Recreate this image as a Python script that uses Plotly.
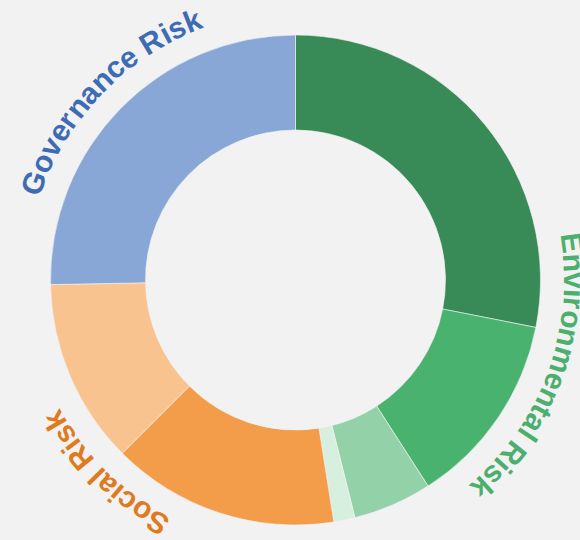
import math
import plotly.graph_objects as go

# ---- data ----
slice_names = ["Climate", "Pollution", "Resources", "Biodiversity",
               "Labor", "Community", "Governance"]
slice_values = [28.1, 12.8, 5.2, 1.4, 15.0, 12.2, 25.3]
slice_colors = ["#388a57", "#4ab26f", "#93d2a8", "#d7efdf",
                "#f39c4a", "#f9c390", "#88a7d6"]

group_labels = ["Environmental Risk", "Social Risk", "Governance Risk"]
group_label_colors = ["#4caf6e", "#e07a1f", "#3d6cb5"]
group_label_angles = [110.0, 224.5, 314.0]   # centre angle, degrees clockwise from 12 o'clock

W, H = 580, 540
CX, CY, R = 295.5, 280.0, 245.0
FS = 30
TEXT_R = 279.0          # radius of the character box centres
BASE_R = 269.0          # radius used for advancing along the arc

# Arial/Liberation Sans Bold advance widths (per 1000 em)
ADV = {"E": 667, "n": 611, "v": 556, "i": 278, "r": 389, "o": 611, "m": 889,
       "e": 556, "t": 333, "a": 556, "l": 278, " ": 278, "R": 722, "s": 556,
       "k": 556, "S": 667, "c": 556, "G": 778}

fig = go.Figure(go.Pie(
    labels=slice_names,
    values=slice_values,
    sort=False,
    direction="clockwise",
    rotation=0,
    hole=150 / 245,
    marker=dict(colors=slice_colors, line=dict(color="#f4f4f4", width=0.6)),
    textinfo="none",
    hoverinfo="label+percent",
    showlegend=False,
    domain=dict(x=[(CX - R) / W, (CX + R) / W],
                y=[1 - (CY + R) / H, 1 - (CY - R) / H]),
))

annotations = []
for text, color, centre in zip(group_labels, group_label_colors, group_label_angles):
    widths = [ADV.get(ch, 556) * FS / 1000 for ch in text]
    total = sum(widths)
    span = math.degrees(total / BASE_R)
    start = centre - span / 2
    cum = 0.0
    for ch, w in zip(text, widths):
        ang = start + math.degrees((cum + w / 2) / BASE_R)
        cum += w
        if ch == " ":
            continue
        a = math.radians(ang)
        px = CX + TEXT_R * math.sin(a)
        py = CY - TEXT_R * math.cos(a)
        rot = ang
        while rot > 180:
            rot -= 360
        annotations.append(dict(
            x=px / W, y=1 - py / H, xref="paper", yref="paper",
            text=ch, showarrow=False, textangle=rot,
            xanchor="center", yanchor="middle",
            font=dict(family="Liberation Sans, Arial, sans-serif", size=FS,
                      color=color, weight="bold"),
        ))

fig.update_layout(
    width=W, height=H,
    margin=dict(l=0, r=0, t=0, b=0),
    paper_bgcolor="#f2f2f2",
    plot_bgcolor="#f2f2f2",
    annotations=annotations,
    font=dict(family="Liberation Sans, Arial, sans-serif"),
)

fig.write_html("out.html")
